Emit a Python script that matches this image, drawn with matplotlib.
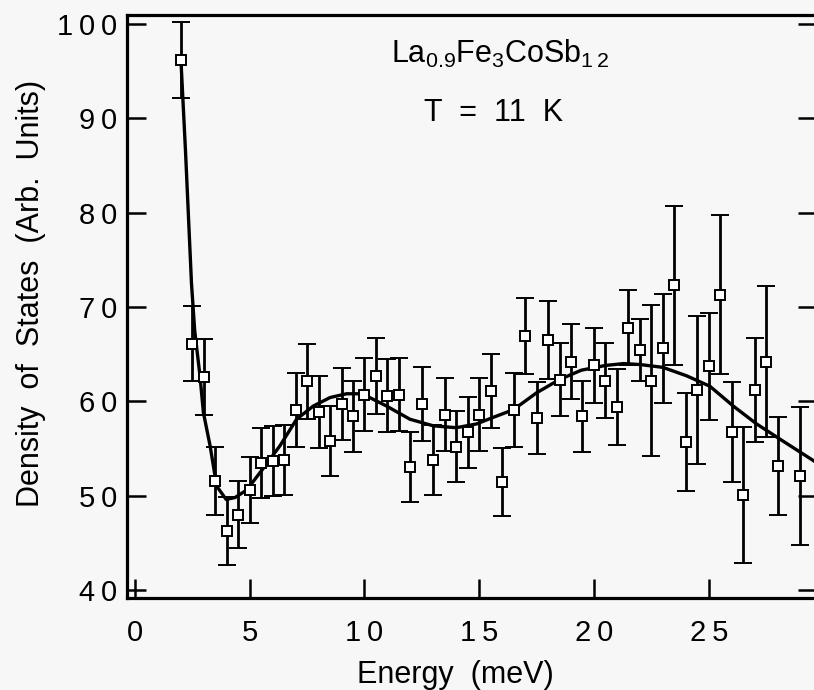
import matplotlib
matplotlib.use('Agg')
import matplotlib.pyplot as plt

plt.rcParams['font.family'] = ['Liberation Sans', 'DejaVu Sans']
plt.rcParams['mathtext.default'] = 'regular'

# measured points (energy in meV, density of states, error)
energy = [2.0, 2.5, 3.0, 3.5, 4.0, 4.5, 5.0, 5.5, 6.0, 6.5, 7.0, 7.5, 8.0, 8.5,
          9.0, 9.5, 10.0, 10.5, 11.0, 11.5, 12.0, 12.5, 13.0, 13.5, 14.0, 14.5,
          15.0, 15.5, 16.0, 16.5, 17.0, 17.5, 18.0, 18.5, 19.0, 19.5, 20.0, 20.5,
          21.0, 21.5, 22.0, 22.5, 23.0, 23.5, 24.0, 24.5, 25.0, 25.5, 26.0, 26.5,
          27.0, 27.5, 28.0, 29.0]
dos = [96.2, 66.1, 62.6, 51.6, 46.3, 48.0, 50.6, 53.5, 53.7, 53.8, 59.1, 62.1,
       58.9, 55.8, 59.7, 58.4, 60.7, 62.7, 60.6, 60.7, 53.0, 59.7, 53.8, 58.6,
       55.2, 56.7, 58.6, 61.1, 51.4, 59.1, 66.9, 58.2, 66.5, 62.3, 64.2, 58.4,
       63.8, 62.2, 59.4, 67.8, 65.4, 62.2, 65.6, 72.3, 55.7, 61.2, 63.7, 71.3,
       56.7, 50.1, 61.2, 64.2, 53.1, 52.1]
err = [4.0, 4.0, 4.0, 3.6, 3.6, 3.5, 3.5, 3.7, 3.7, 3.7, 3.9, 4.0,
       3.8, 3.7, 3.8, 3.8, 3.9, 4.0, 3.9, 3.9, 3.7, 3.9, 3.7, 3.9,
       3.8, 3.8, 3.9, 3.9, 3.6, 3.9, 4.0, 3.8, 4.1, 3.9, 4.0, 3.8,
       4.0, 4.0, 4.0, 4.0, 3.3, 8.0, 5.8, 8.4, 5.2, 7.8, 5.7, 8.4,
       5.3, 7.2, 5.5, 8.0, 5.2, 7.3]

# fitted curve
fit_x = [2.0, 2.2, 2.46, 2.6, 2.83, 2.98, 3.27, 3.56, 3.97, 4.36, 4.87, 5.59,
         6.32, 7.04, 7.77, 8.5, 9.22, 9.9, 10.96, 11.98, 13.0, 14.0, 14.88,
         15.61, 16.48, 17.5, 18.49, 19.45, 20.5, 21.3, 22.0, 23.0, 24.04,
         25.05, 26.07, 27.09, 28.1, 29.7]
fit_y = [96.2, 86.5, 72.5, 67.5, 62.7, 58.8, 55.3, 51.0, 49.6, 49.8, 50.6, 52.9,
         55.3, 58.1, 59.5, 60.4, 60.8, 60.8, 59.5, 58.1, 57.4, 57.2, 57.6,
         58.3, 59.1, 60.9, 62.3, 63.3, 63.8, 64.0, 63.9, 63.6, 62.7,
         61.6, 59.5, 57.6, 56.0, 53.5]

xtick_vals = [0, 5, 10, 15, 20, 25]
ytick_vals = [40, 50, 60, 70, 80, 90, 100]

bg = '#f7f7f7'
fig = plt.figure(figsize=(8.14, 6.90), dpi=100, facecolor=bg)
ax = fig.add_axes([127 / 814, 92 / 690, 690 / 814, 583 / 690], facecolor=bg)

ax.plot(fit_x, fit_y, color='black', linewidth=2.4, zorder=2)
ax.errorbar(energy, dos, yerr=err, fmt='s', color='black', ecolor='black',
            elinewidth=2.0, capsize=6.5, capthick=2.2, markersize=6.5,
            markerfacecolor='white', markeredgecolor='black',
            markeredgewidth=1.4, zorder=3)

ax.set_xlim(-0.35, 29.72)
ax.set_ylim(39.15, 100.95)
ax.set_xticks(xtick_vals)
ax.set_yticks(ytick_vals)
# the original labels are typeset with a little letter spacing
ax.set_xticklabels(['\u2009'.join(str(v)) for v in xtick_vals])
ax.set_yticklabels(['\u2009'.join(str(v)) for v in ytick_vals])
ax.tick_params(axis='both', direction='in', length=14, width=1.8,
               labelsize=21, right=True, top=False)
ax.tick_params(axis='y', pad=7)
ax.tick_params(axis='x', pad=15)
for s in ax.spines.values():
    s.set_linewidth(2.3)

fig.text(455 / 814, 1 - 683 / 690, 'Energy  (meV)', fontsize=22,
         ha='center', va='baseline')
fig.text(31 / 814, 1 - 293 / 690, 'Density  of  States  (Arb.  Units)',
         fontsize=22, rotation=90, ha='center', va='center')

ax.text(15.9, 95.85, r'La$_{0.9}$Fe$_3$CoSb$_{1\,2}$', fontsize=22,
        ha='center', va='baseline')
ax.text(15.64, 89.68, 'T  =  11  K', fontsize=22, ha='center', va='baseline')

fig.savefig('out.png', dpi=100, facecolor=bg)
